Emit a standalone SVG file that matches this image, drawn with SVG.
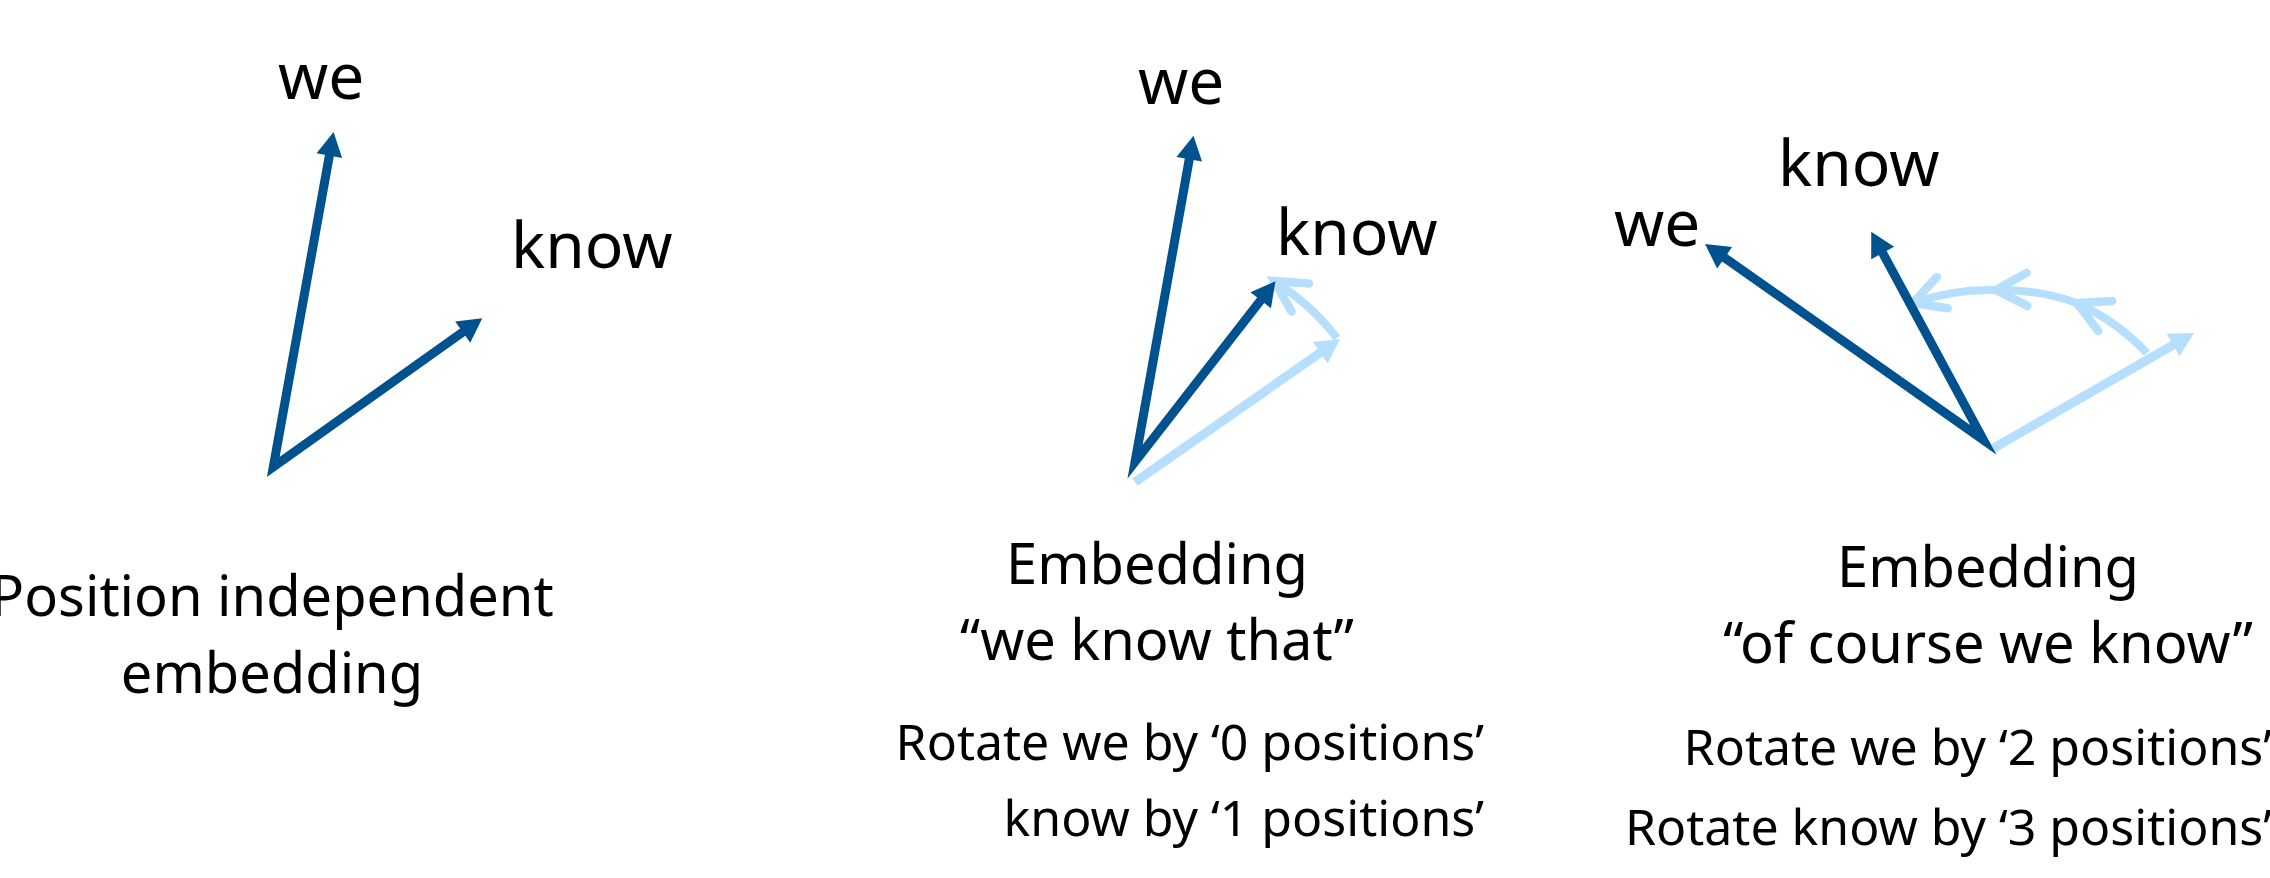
<svg xmlns="http://www.w3.org/2000/svg" width="2270" height="878" viewBox="0 0 2270 878">
  <style>
    text { font-family: "Noto Sans", "Liberation Sans", sans-serif; fill: #000; }
    .lbl { font-size: 64px; }
    .cap { font-size: 56px; text-anchor: middle; }
    .rot { font-size: 50px; text-anchor: end; }
    .dark { fill: none; stroke: #00528F; stroke-width: 9; stroke-linejoin: miter; stroke-miterlimit: 12; }
    .light { fill: none; stroke: #B6DEFD; stroke-width: 9; }
    .arc { fill: none; stroke: #B6DEFD; stroke-width: 8; }
  </style>
  <defs>
    <marker id="headDark" markerUnits="userSpaceOnUse" markerWidth="30" markerHeight="30" refX="6" refY="13" orient="auto-start-reverse" overflow="visible">
      <path d="M0,0 L24,13 L0,26 Z" fill="#00528F"/>
    </marker>
    <marker id="headLight" markerUnits="userSpaceOnUse" markerWidth="30" markerHeight="30" refX="6" refY="13" orient="auto" overflow="visible">
      <path d="M0,0 L24,13 L0,26 Z" fill="#B6DEFD"/>
    </marker>
    <marker id="chev" markerUnits="userSpaceOnUse" markerWidth="40" markerHeight="40" refX="0" refY="0" orient="auto" overflow="visible">
      <path d="M-31,-16.5 L0,0 L-31,16.5" fill="none" stroke="#B6DEFD" stroke-width="8.5" stroke-linecap="round" stroke-linejoin="miter"/>
    </marker>
  </defs>

  <g id="connectors">
    <!-- panel 1 -->
    <path id="p1-vectors" class="dark" d="M330.4,149.7 L273.3,467 L467.6,328.7" marker-start="url(#headDark)" marker-end="url(#headDark)"/>
    <!-- panel 2 -->
    <line id="p2-know-orig" class="light" x1="1135" y1="482" x2="1325.2" y2="349.3" marker-end="url(#headLight)"/>
    <path id="p2-rot-know" class="arc" d="M1337,338 A244,244 0 0 0 1274,281" marker-end="url(#chev)"/>
    <path id="p2-vectors" class="dark" d="M1190.3,153.4 L1135.1,461.7 L1264.4,295.5" marker-start="url(#headDark)" marker-end="url(#headDark)"/>
    <!-- panel 3 -->
    <line id="p3-know-orig" class="light" x1="1992" y1="449" x2="2178.4" y2="342" marker-end="url(#headLight)"/>
    <path id="p3-rot-1" class="arc" d="M2147,353 A230,230 0 0 0 2077,303" marker-end="url(#chev)"/>
    <path id="p3-rot-2" class="arc" d="M2077,303 A230,230 0 0 0 1996,290" marker-end="url(#chev)"/>
    <path id="p3-rot-3" class="arc" d="M1996,290 A230,230 0 0 0 1913,303" marker-end="url(#chev)"/>
    <path id="p3-vectors" class="dark" d="M1719.7,254.3 L1983.5,440 L1879.8,247.7" marker-start="url(#headDark)" marker-end="url(#headDark)"/>
  </g>

  <g id="p1-we"><text class="lbl" x="278" y="99">we</text></g>
  <g id="p1-know"><text class="lbl" x="511" y="268">know</text></g>
  <g id="p1-caption">
    <text class="cap" x="272" y="616">Position independent</text>
    <text class="cap" x="272" y="693">embedding</text>
  </g>

  <g id="p2-we"><text class="lbl" x="1138" y="104">we</text></g>
  <g id="p2-know"><text class="lbl" x="1276" y="255">know</text></g>
  <g id="p2-caption">
    <text class="cap" x="1157" y="584">Embedding</text>
    <text class="cap" x="1157" y="660">“we know that”</text>
  </g>
  <g id="p2-rotation">
    <text class="rot" x="1484" y="760">Rotate we by ‘0 positions’</text>
    <text class="rot" x="1484" y="836">know by ‘1 positions’</text>
  </g>

  <g id="p3-know"><text class="lbl" x="1778" y="186">know</text></g>
  <g id="p3-we"><text class="lbl" x="1614" y="246">we</text></g>
  <g id="p3-caption">
    <text class="cap" x="1988" y="587">Embedding</text>
    <text class="cap" x="1988" y="663">“of course we know”</text>
  </g>
  <g id="p3-rotation">
    <text class="rot" x="2272" y="765">Rotate we by ‘2 positions’</text>
    <text class="rot" x="2272" y="845">Rotate know by ‘3 positions’</text>
  </g>
</svg>
